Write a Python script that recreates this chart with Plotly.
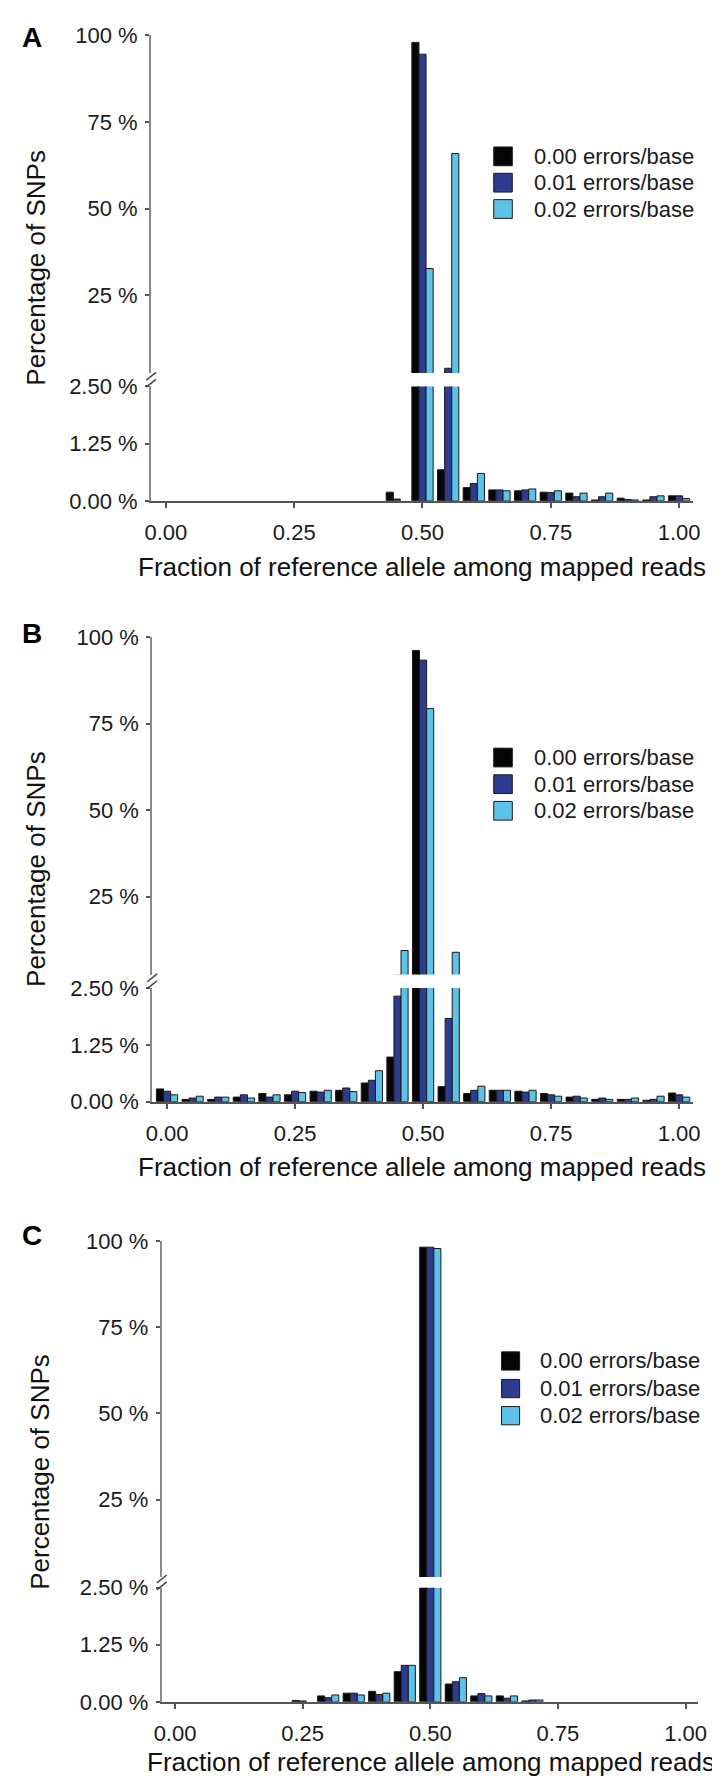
import plotly.graph_objects as go

# ---------------- data ----------------
bins = [0.00, 0.05, 0.10, 0.15, 0.20, 0.25, 0.30, 0.35, 0.40, 0.45, 0.50,
        0.55, 0.60, 0.65, 0.70, 0.75, 0.80, 0.85, 0.90, 0.95, 1.00]
series_names = ["0.00 errors/base", "0.01 errors/base", "0.02 errors/base"]
series_colors = ["#050505", "#2d3c8e", "#5cc2e8"]

A_000 = [0, 0, 0, 0, 0, 0, 0, 0, 0, 0.19, 98.0, 0.68, 0.29, 0.24, 0.22, 0.19, 0.17, 0.02, 0.06, 0.02, 0.11]
A_001 = [0, 0, 0, 0, 0, 0, 0, 0, 0, 0.04, 94.6, 3.9, 0.38, 0.24, 0.24, 0.18, 0.09, 0.09, 0.03, 0.09, 0.11]
A_002 = [0, 0, 0, 0, 0, 0, 0, 0, 0, 0, 32.7, 65.9, 0.60, 0.22, 0.26, 0.22, 0.17, 0.17, 0.02, 0.11, 0.05]

B_000 = [0.28, 0.05, 0.05, 0.10, 0.18, 0.15, 0.23, 0.25, 0.41, 0.98, 96.1, 0.33, 0.18, 0.25, 0.23, 0.18, 0.10, 0.05, 0.05, 0.03, 0.19]
B_001 = [0.23, 0.08, 0.10, 0.15, 0.10, 0.23, 0.21, 0.30, 0.47, 2.32, 93.3, 1.83, 0.25, 0.25, 0.21, 0.15, 0.12, 0.08, 0.05, 0.05, 0.15]
B_002 = [0.15, 0.12, 0.10, 0.08, 0.15, 0.20, 0.25, 0.22, 0.68, 9.44, 79.3, 8.93, 0.34, 0.25, 0.25, 0.12, 0.08, 0.05, 0.08, 0.12, 0.10]

C_000 = [0, 0, 0, 0, 0, 0.03, 0.13, 0.19, 0.23, 0.66, 98.2, 0.39, 0.13, 0.13, 0.02, 0, 0, 0, 0, 0, 0]
C_001 = [0, 0, 0, 0, 0, 0.02, 0.09, 0.19, 0.16, 0.80, 98.2, 0.44, 0.18, 0.08, 0.04, 0, 0, 0, 0, 0, 0]
C_002 = [0, 0, 0, 0, 0, 0, 0.15, 0.15, 0.19, 0.80, 97.8, 0.53, 0.13, 0.13, 0.04, 0, 0, 0, 0, 0, 0]

panel_letters = ["A", "B", "C"]
x_tickvals = [0, 0.25, 0.5, 0.75, 1.0]
x_ticktext = ["0.00", "0.25", "0.50", "0.75", "1.00"]
low_tickvals = [0, 1.25, 2.5]
low_ticktext = ["0.00 %", "1.25 %", "2.50 %"]
up_tickvals = [25, 50, 75, 100]
up_ticktext = ["25 %", "50 %", "75 %", "100 %"]
x_title = "Fraction of reference allele among mapped reads"
y_title = "Percentage of SNPs"

panels = [[A_000, A_001, A_002], [B_000, B_001, B_002], [C_000, C_001, C_002]]

# ---------------- layout geometry (pixels) ----------------
W, H = 720, 1786
FONT = "Liberation Sans, Arial, Helvetica, sans-serif"


def px(x):
    return x / W


def py(y):
    return 1 - y / H


geo = [
    dict(x0=138.3, x1=693.3, xr=[-0.029, 1.027], up=(15.7, 358.1), low=(371.7, 487.7),
         letter=(16, 18), ytitle=(21, 251.7), xtitle=(416, 555),
         leg_sq=(489.3, 508.3), leg_tx=528.3, leg_rows=(138.3, 165.0, 191.7)),
    dict(x0=139.5, x1=693.3, xr=[-0.029, 1.027], up=(625.7, 968.1), low=(981.7, 1097.0),
         letter=(16, 622), ytitle=(21, 861.5), xtitle=(416, 1163),
         leg_sq=(489.3, 508.3), leg_tx=528.3, leg_rows=(748.0, 775.0, 802.0)),
    dict(x0=149.3, x1=698.3, xr=[-0.026, 1.024], up=(1238.3, 1579.2), low=(1590.0, 1705.7),
         letter=(16, 1233), ytitle=(25, 1472), xtitle=(425, 1766.7),
         leg_sq=(497.3, 515.8), leg_tx=535.0, leg_rows=(1360.0, 1388.0, 1415.5)),
]

fig = go.Figure()
layout = dict(
    width=W, height=H, autosize=False,
    margin=dict(l=0, r=0, t=0, b=0),
    paper_bgcolor="white", plot_bgcolor="white",
    barmode="group", bargap=0.17, bargroupgap=0.0,
    showlegend=False,
    font=dict(family=FONT, size=22, color="#1a1a1a"),
)
annotations = []
shapes = []

for i, (data, g) in enumerate(zip(panels, geo)):
    xn = i + 1
    ylow = 2 * i + 1
    yup = 2 * i + 2
    xname = "x" if xn == 1 else f"x{xn}"
    ylow_name = "y" if ylow == 1 else f"y{ylow}"
    yup_name = f"y{yup}"

    for vals, name, col in zip(data, series_names, series_colors):
        # empty bins are left blank (no zero-height outline)
        shown = [v if v > 0 else None for v in vals]
        for yax in (ylow_name, yup_name):
            fig.add_trace(go.Bar(
                x=bins, y=shown, name=name, xaxis=xname, yaxis=yax,
                marker=dict(color=col, line=dict(color="#1a1a1a", width=1)),
                showlegend=False,
            ))

    xdom = [px(g["x0"]), px(g["x1"])]
    layout["xaxis" if xn == 1 else f"xaxis{xn}"] = dict(
        domain=xdom, range=g["xr"], anchor=ylow_name,
        tickvals=x_tickvals, ticktext=x_ticktext,
        showline=True, linecolor="#555555", linewidth=2,
        ticks="outside", ticklen=5, tickwidth=2, tickcolor="#555555",
        showgrid=False, zeroline=False, fixedrange=True,
        tickfont=dict(size=22, color="#1a1a1a"), ticklabelstandoff=6,
    )
    # overlay axis to make x ticks cross the axis line
    layout[f"xaxis{xn + 3}"] = dict(
        overlaying=xname, range=g["xr"], anchor=ylow_name,
        tickvals=x_tickvals, showticklabels=False,
        showline=False, ticks="inside", ticklen=5, tickwidth=2, tickcolor="#555555",
        showgrid=False, zeroline=False, fixedrange=True,
    )
    layout["yaxis" if ylow == 1 else f"yaxis{ylow}"] = dict(
        domain=[py(g["low"][1]), py(g["low"][0])], range=[0, 2.5], anchor=xname,
        tickvals=low_tickvals, ticktext=low_ticktext,
        showline=True, linecolor="#8a8a8a", linewidth=2,
        ticks="outside", ticklen=4, tickwidth=1.5, tickcolor="#555555",
        showgrid=False, zeroline=False, fixedrange=True,
        tickfont=dict(size=22, color="#1a1a1a"), ticklabelstandoff=3,
    )
    layout[f"yaxis{yup}"] = dict(
        domain=[py(g["up"][1]), py(g["up"][0])], range=[2.5, 100], anchor=xname,
        tickvals=up_tickvals, ticktext=up_ticktext,
        showline=True, linecolor="#8a8a8a", linewidth=2,
        ticks="outside", ticklen=4, tickwidth=1.5, tickcolor="#555555",
        showgrid=False, zeroline=False, fixedrange=True,
        tickfont=dict(size=22, color="#1a1a1a"), ticklabelstandoff=3,
    )

    # panel letter
    annotations.append(dict(
        text=f"<b>{panel_letters[i]}</b>", x=px(g["letter"][0]), y=py(g["letter"][1]),
        xref="paper", yref="paper", showarrow=False, xanchor="center", yanchor="middle",
        font=dict(size=28, color="black", family=FONT)))
    # axis titles
    annotations.append(dict(
        text=x_title, x=px(g["xtitle"][0]), y=py(g["xtitle"][1]),
        xref="paper", yref="paper", showarrow=False, xanchor="center", yanchor="middle",
        font=dict(size=26, color="#111111", family=FONT)))
    annotations.append(dict(
        text=y_title, x=px(g["ytitle"][0]), y=py(g["ytitle"][1]), textangle=-90,
        xref="paper", yref="paper", showarrow=False, xanchor="center", yanchor="middle",
        font=dict(size=26, color="#111111", family=FONT)))

    # legend (drawn manually for large square swatches)
    sx0, sx1 = g["leg_sq"]
    half = (sx1 - sx0) / 2
    for row_y, name, col in zip(g["leg_rows"], series_names, series_colors):
        shapes.append(dict(
            type="rect", xref="paper", yref="paper",
            x0=px(sx0), x1=px(sx1), y0=py(row_y + half), y1=py(row_y - half),
            fillcolor=col, line=dict(color="#1a1a1a", width=1)))
        annotations.append(dict(
            text=name, x=px(g["leg_tx"]), y=py(row_y), xref="paper", yref="paper",
            showarrow=False, xanchor="left", yanchor="middle",
            font=dict(size=22, color="#1a1a1a", family=FONT)))

    # axis break marks
    ax = g["x0"]
    ybrk = (g["up"][1] + g["low"][0]) / 2
    for dy in (-3.5, 3.5):
        shapes.append(dict(
            type="line", xref="paper", yref="paper",
            x0=px(ax - 5), y0=py(ybrk + dy + 4), x1=px(ax + 5), y1=py(ybrk + dy - 4),
            line=dict(color="#444444", width=1.5)))

layout["annotations"] = annotations
layout["shapes"] = shapes
fig.update_layout(**layout)

fig.write_html("out.html")
